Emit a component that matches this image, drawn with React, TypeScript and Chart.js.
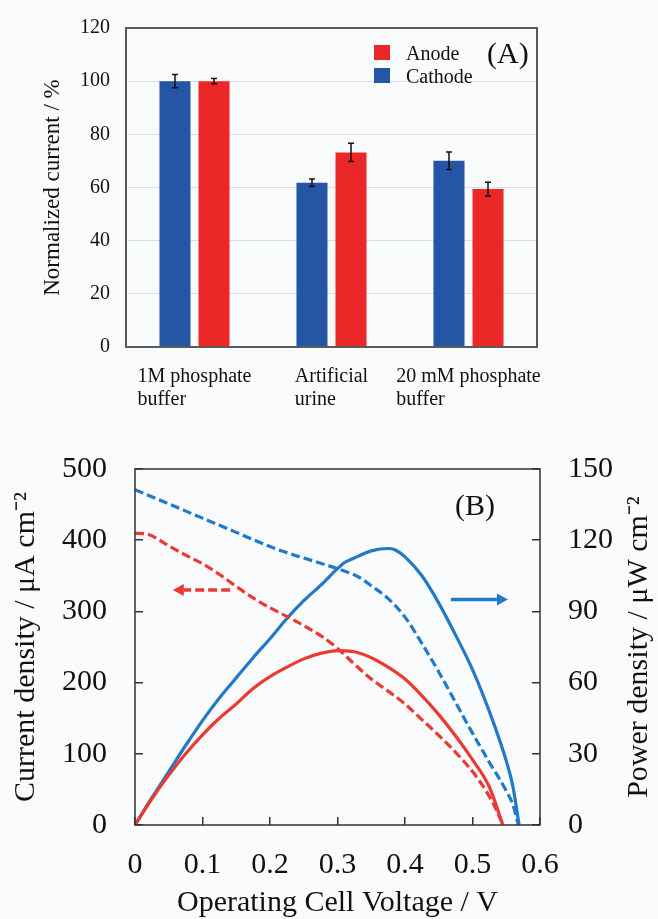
import React, { useEffect, useRef } from "react";
import { Chart, registerables } from "chart.js";

Chart.register(...registerables);

const FONT = "'Liberation Serif', 'Times New Roman', serif";
const TEXT = "#111111";

// ---------- Panel A data ----------
const categories = [
  ["1M phosphate", "buffer"],
  ["Artificial", "urine"],
  ["20 mM phosphate", "buffer"],
];
const cathodeValues = [100, 61.8, 70.1];
const cathodeErrors = [2.5, 1.4, 3.3];
const anodeValues = [100, 73.2, 59.4];
const anodeErrors = [1.0, 3.4, 2.6];
const yTicksA = [0, 20, 40, 60, 80, 100, 120];

// ---------- Panel B data ----------
const cathodeCurrentV = [0, 0.05, 0.1, 0.15, 0.2, 0.22, 0.25, 0.3, 0.33, 0.35, 0.375, 0.4, 0.425, 0.45, 0.475, 0.5, 0.525, 0.55, 0.56, 0.568];
const cathodeCurrent = [471, 451, 431, 411, 391, 384, 375, 360, 349, 336, 318, 292, 255, 215, 172, 129, 88, 48, 28, 0];

const anodeCurrentV = [0, 0.02, 0.05, 0.075, 0.1, 0.125, 0.15, 0.175, 0.2, 0.225, 0.25, 0.275, 0.3, 0.325, 0.35, 0.375, 0.4, 0.425, 0.45, 0.475, 0.5, 0.52, 0.535, 0.545];
const anodeCurrent = [410, 408, 392, 379, 367, 352, 335, 319, 305, 293, 280, 266, 248, 226, 205, 188, 170, 148, 126, 102, 75, 48, 22, 0];

const cathodePowerV = [0, 0.025, 0.05, 0.075, 0.1, 0.125, 0.15, 0.175, 0.2, 0.225, 0.25, 0.275, 0.3, 0.31, 0.325, 0.35, 0.375, 0.385, 0.4, 0.425, 0.45, 0.475, 0.5, 0.525, 0.55, 0.56, 0.569];
const cathodePower = [0, 11.5, 22.5, 33.5, 44, 53.5, 62, 70.5, 78.5, 87, 94.5, 101, 108, 110.5, 112.5, 115.5, 116.5, 116, 113, 105, 93.5, 80, 65.5, 47.8, 27, 16, 0];

const anodePowerV = [0, 0.025, 0.05, 0.075, 0.1, 0.125, 0.15, 0.175, 0.2, 0.225, 0.25, 0.275, 0.3, 0.325, 0.35, 0.375, 0.4, 0.425, 0.45, 0.475, 0.5, 0.525, 0.545];
const anodePower = [0, 11, 21, 30, 38, 45, 51, 57.5, 62.5, 66.5, 70, 72.3, 73.5, 73, 70.5, 66.5, 61.5, 54.5, 46.5, 37.5, 27.5, 16, 0];

const xTicksB = [0, 0.1, 0.2, 0.3, 0.4, 0.5, 0.6];
const currentTicks = [0, 100, 200, 300, 400, 500];
const powerTicks = [0, 30, 60, 90, 120, 150];

// arrow annotations (data coordinates)
const currentArrow = { from: 0.141, to: 0.056, at: 330 };
const powerArrow = { from: 0.468, to: 0.5525, at: 95 };

const BAR_BLUE = "#2456a5";
const BAR_RED = "#ec2727";
const LINE_BLUE = "#2179c7";
const LINE_RED = "#ec3a30";

const pts = (xs: number[], ys: number[]) => xs.map((x, i) => ({ x, y: ys[i] }));

const panelAPlugin = {
  id: "panelA",
  afterDatasetsDraw(chart: any) {
    const { ctx, chartArea } = chart;
    const yScale = chart.scales.y;
    const xScale = chart.scales.x;
    const errs = [cathodeErrors, anodeErrors];
    ctx.save();
    ctx.strokeStyle = "#111";
    ctx.lineWidth = 1.5;
    chart.data.datasets.forEach((ds: any, di: number) => {
      const meta = chart.getDatasetMeta(di);
      meta.data.forEach((bar: any, i: number) => {
        const v = ds.data[i];
        const e = errs[di][i];
        const t = yScale.getPixelForValue(v + e);
        const b = yScale.getPixelForValue(v - e);
        ctx.beginPath();
        ctx.moveTo(bar.x, t);
        ctx.lineTo(bar.x, b);
        ctx.moveTo(bar.x - 3, t);
        ctx.lineTo(bar.x + 3, t);
        ctx.moveTo(bar.x - 3, b);
        ctx.lineTo(bar.x + 3, b);
        ctx.stroke();
      });
    });
    ctx.strokeStyle = "#5a5a5a";
    ctx.lineWidth = 2;
    ctx.strokeRect(chartArea.left, chartArea.top, chartArea.right - chartArea.left, chartArea.bottom - chartArea.top);
    ctx.fillStyle = TEXT;
    ctx.font = `20px ${FONT}`;
    ctx.textBaseline = "alphabetic";
    ctx.textAlign = "left";
    (chart.data.labels as string[][]).forEach((lines, i) => {
      const cx = xScale.getPixelForValue(i);
      const w = Math.max(...lines.map((l) => ctx.measureText(l).width));
      lines.forEach((l, j) => ctx.fillText(l, cx - w / 2, chartArea.bottom + 35 + j * 23));
    });
    const items = [1, 0];
    items.forEach((di, k) => {
      const ds = chart.data.datasets[di];
      const sx = chartArea.right - 163;
      const sy = chartArea.top + 17 + k * 23;
      ctx.fillStyle = ds.backgroundColor;
      ctx.fillRect(sx, sy, 16, 15);
      ctx.fillStyle = TEXT;
      ctx.font = `20px ${FONT}`;
      ctx.fillText(ds.label, sx + 32, sy + 15);
    });
    ctx.font = `30px ${FONT}`;
    ctx.fillText("(A)", chartArea.right - 50, chartArea.top + 35);
    ctx.restore();
  },
};

const drawArrow = (ctx: any, x0: number, x1: number, y: number, color: string, dashed: boolean) => {
  const dir = Math.sign(x1 - x0);
  const head = 11;
  ctx.save();
  ctx.strokeStyle = color;
  ctx.fillStyle = color;
  ctx.lineWidth = 3.5;
  ctx.setLineDash(dashed ? [9, 4] : []);
  ctx.beginPath();
  ctx.moveTo(x0, y);
  ctx.lineTo(x1 - dir * head, y);
  ctx.stroke();
  ctx.setLineDash([]);
  ctx.beginPath();
  ctx.moveTo(x1, y);
  ctx.lineTo(x1 - dir * head, y - 6);
  ctx.lineTo(x1 - dir * head, y + 6);
  ctx.closePath();
  ctx.fill();
  ctx.restore();
};

const panelBPlugin = {
  id: "panelB",
  afterDatasetsDraw(chart: any) {
    const { ctx, chartArea } = chart;
    const x = chart.scales.x;
    const y = chart.scales.y;
    const y1 = chart.scales.y1;
    ctx.save();
    ctx.strokeStyle = "#333";
    ctx.lineWidth = 1.5;
    ctx.strokeRect(chartArea.left, chartArea.top, chartArea.right - chartArea.left, chartArea.bottom - chartArea.top);
    drawArrow(ctx, x.getPixelForValue(currentArrow.from), x.getPixelForValue(currentArrow.to), y.getPixelForValue(currentArrow.at), LINE_RED, true);
    drawArrow(ctx, x.getPixelForValue(powerArrow.from), x.getPixelForValue(powerArrow.to), y1.getPixelForValue(powerArrow.at), LINE_BLUE, false);
    ctx.fillStyle = TEXT;
    ctx.font = `30px ${FONT}`;
    ctx.textAlign = "left";
    ctx.textBaseline = "alphabetic";
    ctx.fillText("(B)", chartArea.right - 85, chartArea.top + 46);
    ctx.translate(chart.width - 19, (chartArea.top + chartArea.bottom) / 2);
    ctx.rotate(-Math.PI / 2);
    ctx.textAlign = "center";
    ctx.textBaseline = "middle";
    ctx.fillText("Power density / μW cm⁻²", 0, 0);
    ctx.restore();
  },
};

function configA(): any {
  return {
    type: "bar",
    data: {
      labels: categories,
      datasets: [
        { label: "Cathode", data: cathodeValues, backgroundColor: BAR_BLUE, borderWidth: 0, categoryPercentage: 0.57, barPercentage: 0.795 },
        { label: "Anode", data: anodeValues, backgroundColor: BAR_RED, borderWidth: 0, categoryPercentage: 0.57, barPercentage: 0.795 },
      ],
    },
    options: {
      responsive: false,
      animation: false,
      devicePixelRatio: 1,
      layout: { padding: { top: 23, right: 121, left: 0, bottom: 0 } },
      plugins: { legend: { display: false }, tooltip: { enabled: false } },
      scales: {
        x: {
          grid: { display: false },
          border: { display: false },
          ticks: { display: false },
          afterFit: (s: any) => { s.height = 68; },
        },
        y: {
          min: yTicksA[0],
          max: yTicksA[yTicksA.length - 1],
          ticks: { stepSize: yTicksA[1] - yTicksA[0], font: { family: FONT, size: 20 }, color: TEXT, padding: 16 },
          grid: { color: "#d6dee8", lineWidth: 1, drawTicks: false },
          border: { display: false },
          title: {
            display: true,
            text: "Normalized current / %",
            font: { family: FONT, size: 23, lineHeight: 1 },
            padding: { top: 41, bottom: 0 },
            color: TEXT,
          },
          afterFit: (s: any) => { s.width = 126; },
        },
      },
    },
    plugins: [panelAPlugin],
  };
}

function configB(): any {
  const tickGrid = { drawOnChartArea: false, drawTicks: true, tickLength: -8, color: "#333", lineWidth: 1.5 };
  const line = { borderWidth: 3.2, pointRadius: 0, fill: false, cubicInterpolationMode: "monotone" };
  return {
    type: "line",
    data: {
      datasets: [
        { ...line, label: "Anode current", data: pts(anodeCurrentV, anodeCurrent), yAxisID: "y", borderColor: LINE_RED, borderDash: [9, 4] },
        { ...line, label: "Cathode current", data: pts(cathodeCurrentV, cathodeCurrent), yAxisID: "y", borderColor: LINE_BLUE, borderDash: [9, 4] },
        { ...line, label: "Anode power", data: pts(anodePowerV, anodePower), yAxisID: "y1", borderColor: LINE_RED },
        { ...line, label: "Cathode power", data: pts(cathodePowerV, cathodePower), yAxisID: "y1", borderColor: LINE_BLUE },
      ],
    },
    options: {
      responsive: false,
      animation: false,
      devicePixelRatio: 1,
      layout: { padding: { top: 28, right: 0, left: 0, bottom: 0 } },
      plugins: { legend: { display: false }, tooltip: { enabled: false } },
      scales: {
        x: {
          type: "linear",
          min: xTicksB[0],
          max: xTicksB[xTicksB.length - 1],
          ticks: { stepSize: xTicksB[1] - xTicksB[0], font: { family: FONT, size: 30 }, color: TEXT, padding: 30 },
          grid: tickGrid,
          border: { display: false },
          title: {
            display: true,
            text: "Operating Cell Voltage / V",
            font: { family: FONT, size: 30, lineHeight: 1 },
            padding: { top: 0, bottom: 1 },
            color: TEXT,
          },
          afterFit: (s: any) => { s.height = 94; },
        },
        y: {
          position: "left",
          min: currentTicks[0],
          max: currentTicks[currentTicks.length - 1],
          ticks: { stepSize: currentTicks[1] - currentTicks[0], font: { family: FONT, size: 30 }, color: TEXT, padding: 36 },
          grid: tickGrid,
          border: { display: false },
          title: {
            display: true,
            text: "Current density / μA cm⁻²",
            font: { family: FONT, size: 30, lineHeight: 1 },
            padding: { top: 11, bottom: 0 },
            color: TEXT,
          },
          afterFit: (s: any) => { s.width = 135; },
        },
        y1: {
          position: "right",
          min: powerTicks[0],
          max: powerTicks[powerTicks.length - 1],
          ticks: { stepSize: powerTicks[1] - powerTicks[0], font: { family: FONT, size: 30 }, color: TEXT, padding: 36 },
          grid: tickGrid,
          border: { display: false },
          afterFit: (s: any) => { s.width = 118; },
        },
      },
    },
    plugins: [panelBPlugin],
  };
}

export default function App() {
  const refA = useRef<HTMLCanvasElement>(null);
  const refB = useRef<HTMLCanvasElement>(null);
  useEffect(() => {
    const a = new Chart(refA.current as HTMLCanvasElement, configA());
    const b = new Chart(refB.current as HTMLCanvasElement, configB());
    return () => {
      a.destroy();
      b.destroy();
    };
  }, []);
  return (
    <div style={{ position: "absolute", left: 0, top: 0, width: 658, height: 919, background: "#fafbfd", overflow: "hidden" }}>
      <canvas ref={refA} width={658} height={415} style={{ display: "block", width: 658, height: 415 }} />
      <canvas ref={refB} width={658} height={504} style={{ display: "block", width: 658, height: 504 }} />
    </div>
  );
}
